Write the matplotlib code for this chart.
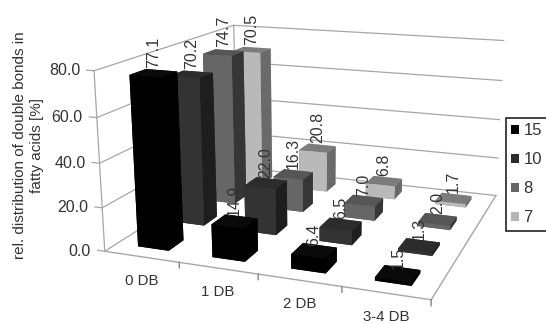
import numpy as np
import matplotlib
matplotlib.use('Agg')
import matplotlib.pyplot as plt
from matplotlib.patches import Patch
from mpl_toolkits.mplot3d import proj3d

plt.rcParams['font.family'] = ['Liberation Sans', 'DejaVu Sans']

categories = ['0 DB', '1 DB', '2 DB', '3-4 DB']
series_names = ['15', '10', '8', '7']
values_15 = [77.1, 14.9, 6.4, 1.5]
values_10 = [70.2, 22.0, 6.5, 1.3]
values_8 = [74.7, 16.3, 7.0, 2.0]
values_7 = [70.5, 20.8, 6.8, 1.7]
all_values = [values_15, values_10, values_8, values_7]
z_ticks = [0, 20, 40, 60, 80]

# face colours per series: (front, right side, top)
face_colors = [('#000000', '#000000', '#0a0a0a'),
               ('#333333', '#1e1e1e', '#2c2c2c'),
               ('#666666', '#363636', '#565656'),
               ('#b9b9b9', '#6a6a6a', '#7c7c7c')]
legend_colors = ['#000000', '#2b2b2b', '#666666', '#b4b4b4']
GRID = '#a6a6a6'
TXT = '#333333'

W = 450.85
fig = plt.figure(figsize=(5.46, 3.23), dpi=100)
ax = fig.add_axes([84.5 / 546, -48.2 / 323, W / 546, W / 323], projection='3d')
ax.set_xlim(0, 4, view_margin=0)
ax.set_ylim(0, 4, view_margin=0)
ax.set_zlim(0, 80, view_margin=0)
ax.view_init(elev=15.036, azim=-69.613)
ax.set_proj_type('persp', focal_length=0.404)
ax.set_box_aspect((1, 0.938, 0.549))
ax.set_axis_off()
ax.computed_zorder = False
M = ax.get_proj()


def label(x, y, z, s, dx, dy, **kw):
    px, py, _ = proj3d.proj_transform(x, y, z, M)
    ax.annotate(s, xy=(px, py), xycoords='data', xytext=(dx * 0.72, dy * 0.72),
                textcoords='offset points', color=TXT, annotation_clip=False, **kw)


# walls and floor
for z in z_ticks:
    ax.plot([0, 0, 4], [0, 4, 4], [z, z, z], color=GRID, lw=0.9, zorder=1)
    ax.plot([-0.1, 0], [0, 0], [z, z], color=GRID, lw=0.9, zorder=1)
    label(0, 0, z, f'{z:.1f}', -14, 0, ha='right', va='center', fontsize=11.5)
ax.plot([0, 0], [0, 0], [0, 80], color=GRID, lw=0.9, zorder=1)
ax.plot([0, 0], [4, 4], [0, 80], color=GRID, lw=0.9, zorder=1)
ax.plot([0, 4, 4], [0, 0, 4], [0, 0, 0], color=GRID, lw=1.0, zorder=1)
for i in range(1, 5):
    ax.plot([i, i], [0, 0], [0, -2.5], color='#777777', lw=0.9, zorder=1)
for i, c in enumerate(categories):
    label(i + 0.5, 0, 0, c, 0, -24, ha='center', va='center', fontsize=10.8)

# bars, far ones first
bw, bd = 0.42, 0.40
order = 2
for j in range(3, -1, -1):
    for i in range(4):
        v = all_values[j][i]
        f, s, t = face_colors[j]
        cols = [t, t, f, f, s, s]  # -z, +z, -y, +y, -x, +x
        ax.bar3d(i + 0.5 - bw / 2, j + 0.5 - bd / 2, 0, bw, bd, v, color=cols,
                 shade=False, edgecolor='none', zorder=order)
        order += 1
for j in range(4):
    for i in range(4):
        v = all_values[j][i]
        label(i + 0.5, j + 0.5, v, f'{v:.1f}', 0, 5, rotation=90, ha='center',
              va='bottom', fontsize=11.5, zorder=100)

fig.text(28.5 / 546, 1 - 145 / 323, 'rel. distribution of double bonds in\nfatty acids [%]',
         rotation=90, ha='center', va='center', fontsize=11, color=TXT, linespacing=1.25)

handles = [Patch(facecolor=c, edgecolor='none') for c in legend_colors]
leg = fig.legend(handles, series_names, loc='upper right', bbox_to_anchor=(1.002, 1 - 118 / 323),
                 borderaxespad=0, fontsize=12, fancybox=False, framealpha=1, edgecolor='#222222',
                 handlelength=0.45, handleheight=0.45, handletextpad=0.3, labelspacing=0.85,
                 borderpad=0.3, labelcolor=TXT)
leg.get_frame().set_linewidth(1.2)
fig.savefig('out.png', dpi=100)
